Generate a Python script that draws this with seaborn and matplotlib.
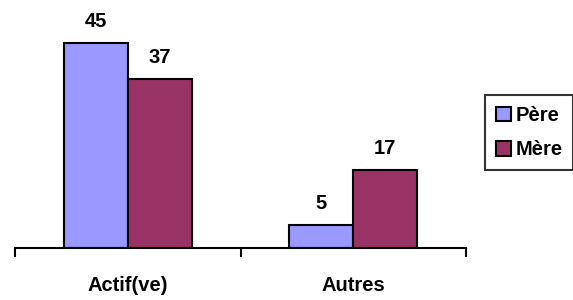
import matplotlib
matplotlib.use("Agg")
import matplotlib.pyplot as plt
import seaborn as sns
import pandas as pd

categories = ["Actif(ve)", "Autres"]
series = ["Père", "Mère"]
pere = [45, 5]
mere = [37, 17]
colors = ["#9999FF", "#993366"]

sns.set_theme(style="white")
plt.rcParams["font.family"] = ["Liberation Sans", "DejaVu Sans"]
plt.rcParams["font.weight"] = "bold"
plt.rcParams["text.color"] = "black"
plt.rcParams["xtick.color"] = "black"

df = pd.DataFrame({
    "cat": categories * 2,
    "serie": [series[0]] * 2 + [series[1]] * 2,
    "val": pere + mere,
})

FS = 14.5

fig = plt.figure(figsize=(5.73, 3.0), dpi=100)
ax = fig.add_axes([15 / 573, 52 / 300, 451 / 573, 228 / 300])

sns.barplot(data=df, x="cat", y="val", hue="serie", order=categories,
            hue_order=series, palette=colors, width=0.567, saturation=1,
            edgecolor="black", linewidth=1.5, ax=ax, legend=True)

for cont in ax.containers:
    for rect in cont:
        h = rect.get_height()
        ax.annotate(f"{int(round(h))}", (rect.get_x() + rect.get_width() / 2, h),
                    xytext=(0, 15.5), textcoords="offset points", ha="center",
                    va="center", fontsize=FS, fontweight="bold", color="black",
                    annotation_clip=False)

ax.set_xlim(-0.5, 1.5)
ax.set_ylim(0, 50)
ax.set_xlabel("")
ax.set_ylabel("")
ax.set_yticks([])
for s in ["top", "right", "left"]:
    ax.spines[s].set_visible(False)
ax.spines["bottom"].set_color("black")
ax.spines["bottom"].set_linewidth(1.5)

ax.set_xticks([-0.5, 0.5, 1.5])
ax.set_xticklabels([])
ax.tick_params(axis="x", which="major", direction="out", length=6.5, width=1.5,
               color="black", bottom=True)
ax.set_xticks([0, 1], minor=True)
ax.set_xticklabels(categories, minor=True, fontsize=FS, fontweight="bold", color="black")
ax.tick_params(axis="x", which="minor", length=0, pad=20)

handles, labels = ax.get_legend_handles_labels()
leg = ax.legend(handles, labels, loc="upper left", bbox_to_anchor=(485 / 573, 1 - 95 / 300),
                bbox_transform=fig.transFigure, frameon=True, fancybox=False,
                edgecolor="black", fontsize=FS, handlelength=0.75, handleheight=0.75,
                handletextpad=0.2, borderpad=0.55, labelspacing=0.75,
                borderaxespad=0)
leg.get_frame().set_linewidth(1.5)
for t in leg.get_texts():
    t.set_fontweight("bold")
    t.set_color("black")

fig.savefig("out.png", dpi=100)
